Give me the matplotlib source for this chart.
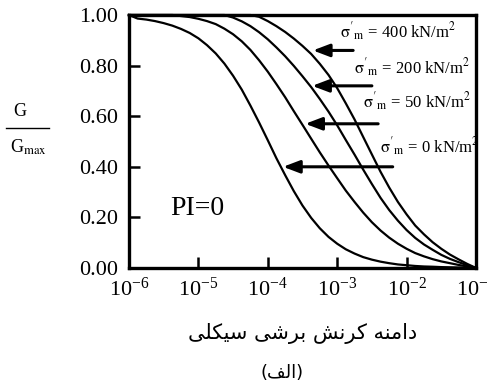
import matplotlib
matplotlib.use('Agg')
import matplotlib.pyplot as plt
from matplotlib.lines import Line2D
from matplotlib.ticker import FixedLocator, FormatStrFormatter

plt.rcParams['font.family'] = ['Liberation Serif', 'DejaVu Sans']
plt.rcParams['mathtext.fontset'] = 'stix'

# cyclic shear strain amplitude (log axis), 8 points per decade
strain = [1.0e-6, 1.33e-6, 1.78e-6, 2.37e-6, 3.16e-6, 4.22e-6, 5.62e-6, 7.50e-6,
          1.0e-5, 1.33e-5, 1.78e-5, 2.37e-5, 3.16e-5, 4.22e-5, 5.62e-5, 7.50e-5,
          1.0e-4, 1.33e-4, 1.78e-4, 2.37e-4, 3.16e-4, 4.22e-4, 5.62e-4, 7.50e-4,
          1.0e-3, 1.33e-3, 1.78e-3, 2.37e-3, 3.16e-3, 4.22e-3, 5.62e-3, 7.50e-3,
          1.0e-2, 1.33e-2, 1.78e-2, 2.37e-2, 3.16e-2, 4.22e-2, 5.62e-2, 7.50e-2,
          1.0e-1]

# G/Gmax, one list per confining pressure
g_0 = [1.00, 0.986, 0.982, 0.976, 0.968, 0.958, 0.945, 0.929,
       0.908, 0.881, 0.848, 0.808, 0.760, 0.705, 0.642, 0.575,
       0.505, 0.434, 0.367, 0.304, 0.247, 0.198, 0.157, 0.123,
       0.096, 0.074, 0.057, 0.043, 0.033, 0.025, 0.019, 0.014,
       0.011, 0.008, 0.006, 0.005, 0.0035, 0.0027, 0.002, 0.001,
       0.0]
g_50 = [1.00, 1.00, 1.00, 1.00, 1.00, 1.00, 0.996, 0.992,
        0.985, 0.976, 0.964, 0.946, 0.924, 0.896, 0.862, 0.821,
        0.776, 0.727, 0.675, 0.620, 0.566, 0.511, 0.457, 0.405,
        0.355, 0.306, 0.261, 0.219, 0.181, 0.148, 0.120, 0.096,
        0.076, 0.059, 0.046, 0.035, 0.026, 0.019, 0.012, 0.006,
        0.0]
g_200 = [1.00, 1.00, 1.00, 1.00, 1.00, 1.00, 1.00, 1.00,
         1.00, 1.00, 1.00, 1.00, 0.990, 0.975, 0.956, 0.932,
         0.904, 0.872, 0.837, 0.799, 0.758, 0.715, 0.668, 0.618,
         0.564, 0.506, 0.448, 0.389, 0.332, 0.277, 0.229, 0.187,
         0.150, 0.119, 0.093, 0.072, 0.052, 0.036, 0.023, 0.011,
         0.0]
g_400 = [1.00, 1.00, 1.00, 1.00, 1.00, 1.00, 1.00, 1.00,
         1.00, 1.00, 1.00, 1.00, 1.00, 1.00, 1.00, 0.993,
         0.976, 0.956, 0.933, 0.907, 0.878, 0.846, 0.807, 0.763,
         0.711, 0.651, 0.587, 0.518, 0.449, 0.380, 0.318, 0.261,
         0.212, 0.168, 0.133, 0.102, 0.076, 0.053, 0.034, 0.016,
         0.0]

labels = [r"$\mathrm{\sigma}'_{\mathrm{m}}$ = 400 kN/m$^2$",
          r"$\mathrm{\sigma}'_{\mathrm{m}}$ = 200 kN/m$^2$",
          r"$\mathrm{\sigma}'_{\mathrm{m}}$ = 50 kN/m$^2$",
          r"$\mathrm{\sigma}'_{\mathrm{m}}$ = 0 kN/m$^2$"]

x_ticks = [1e-6, 1e-5, 1e-4, 1e-3, 1e-2, 1e-1]
y_ticks = [0.0, 0.2, 0.4, 0.6, 0.8, 1.0]

# persian axis title, glyphs already shaped and in visual order
x_title = ('\uFBFD\uFEE0\uFB91\uFBFF\uFEB3 '
           '\uFBFD\uFEB7\uFEAE\uFE91 '
           '\uFEB6\uFEE7\uFEAE\uFB90 '
           '\uFEEA\uFEE8\uFEE3\uFE8D\uFEA9')
sub_title = '(\uFED2\uFEDF\uFE8D)'

fig = plt.figure(figsize=(4.88, 3.84), dpi=100)
ax = fig.add_axes([0.2643, 0.3021, 0.7111, 0.6588])

for g in [g_0, g_50, g_200, g_400]:
    ax.plot(strain, g, color='black', linewidth=1.6, clip_on=False)

ax.set_xscale('log')
ax.set_xlim(1e-6, 1e-1)
ax.set_ylim(0, 1)
ax.xaxis.set_major_locator(FixedLocator(x_ticks))
ax.xaxis.set_minor_locator(FixedLocator([]))
ax.set_yticks(y_ticks)
ax.yaxis.set_major_formatter(FormatStrFormatter('%.2f'))
ax.tick_params(direction='in', length=8, width=1.8, labelsize=16, pad=8,
               colors='black')
ax.tick_params(axis='x', pad=7)
for s in ax.spines.values():
    s.set_linewidth(2.4)

# arrows pointing at each curve
tips = [(10**-3.35, 0.86), (10**-3.36, 0.72), (10**-3.46, 0.57), (10**-3.78, 0.40)]
tails = [10**-2.77, 10**-2.50, 10**-2.41, 10**-2.20]
for (tx, ty), tail in zip(tips, tails):
    ax.annotate('', xy=(tx, ty), xytext=(tail, ty),
                arrowprops=dict(arrowstyle='-|>,head_length=1.0,head_width=0.38',
                                color='black', lw=2.2, shrinkA=0, shrinkB=0))

label_pos = [(10**-2.96, 0.935), (10**-2.76, 0.79), (10**-2.63, 0.655), (10**-2.38, 0.478)]
for (lx, ly), txt in zip(label_pos, labels):
    ax.text(lx, ly, txt, fontsize=12, ha='left', va='center')

ax.text(10**-5.41, 0.237, 'PI=0', fontsize=20, ha='left', va='center')

# G / Gmax written as a stacked fraction
fig.text(13 / 488, 1 - 112 / 384, 'G', fontsize=13, ha='left', va='center')
fig.add_artist(Line2D([6 / 488, 49 / 488], [1 - 128 / 384, 1 - 128 / 384],
                      color='black', linewidth=1.0))
fig.text(10 / 488, 1 - 147 / 384, r'G$_{\mathrm{max}}$', fontsize=13,
         ha='left', va='center')

fig.text(303 / 488, 1 - 334 / 384, x_title, family='DejaVu Sans',
         fontsize=15, ha='center', va='center')
fig.text(282 / 488, 1 - 373 / 384, sub_title, family='DejaVu Sans',
         fontsize=13, ha='center', va='center')

fig.savefig('out.png', dpi=100)
